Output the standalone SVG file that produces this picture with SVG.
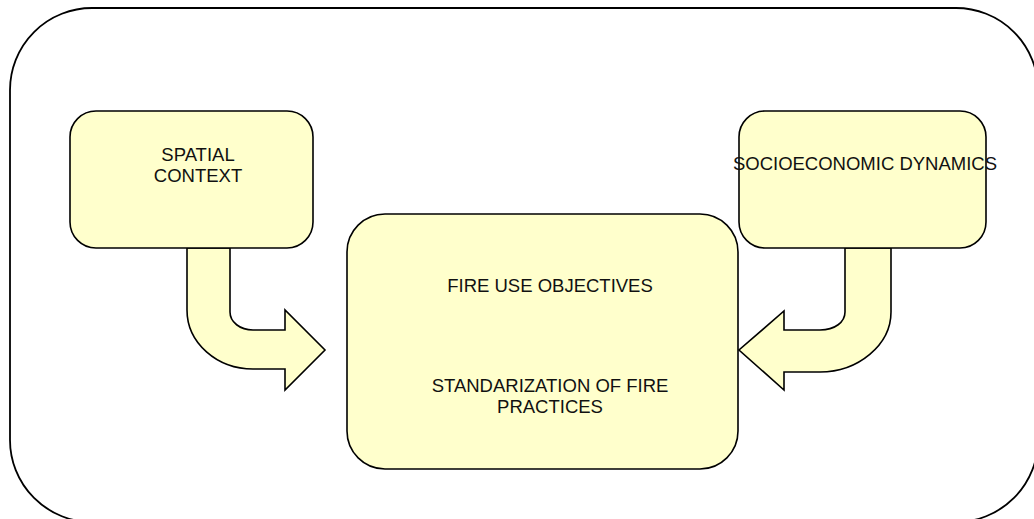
<svg xmlns="http://www.w3.org/2000/svg" width="1034" height="519" viewBox="0 0 1034 519">
<style>
.frame{fill:#ffffff;stroke:#000000;stroke-width:1.8}
.box{fill:#ffffcc;stroke:#000000;stroke-width:1.6}
.arrow{fill:#ffffcc;stroke:#000000;stroke-width:1.6;stroke-linejoin:miter}
.lbl{font-family:"Liberation Sans",Arial,sans-serif;font-size:18.5px;fill:#111111;text-anchor:middle}
</style>
<rect class="frame" x="10" y="8" width="1028" height="514" rx="82" ry="82"/>
<g id="connectors">
<path class="arrow" d="M187,248 L187,310 C187,343 217,369 253,369 L285,369 L285,390 L325,350 L285,310 L285,330 L253,330 C240,330 230,322 230,312 L230,248 Z"/>
<path class="arrow" d="M845,248 L845,312 C845,322 835,330 820,330 L784,330 L784,311 L739,350 L784,390 L784,372 L820,372 C858,372 891,345 891,312 L891,248 Z"/>
</g>
<g id="spatial-context">
<rect class="box" x="70" y="111" width="243" height="137" rx="26" ry="26"/>
<text class="lbl" x="198" y="161">SPATIAL</text>
<text class="lbl" x="198" y="182">CONTEXT</text>
</g>
<g id="socioeconomic-dynamics">
<rect class="box" x="739" y="111" width="247" height="137" rx="26" ry="26"/>
<text class="lbl" x="865" y="170">SOCIOECONOMIC DYNAMICS</text>
</g>
<g id="fire-use">
<rect class="box" x="347" y="214" width="391" height="255" rx="38" ry="38"/>
<text class="lbl" x="550" y="292">FIRE USE OBJECTIVES</text>
<text class="lbl" x="550" y="392">STANDARIZATION OF FIRE</text>
<text class="lbl" x="550" y="413">PRACTICES</text>
</g>
</svg>
